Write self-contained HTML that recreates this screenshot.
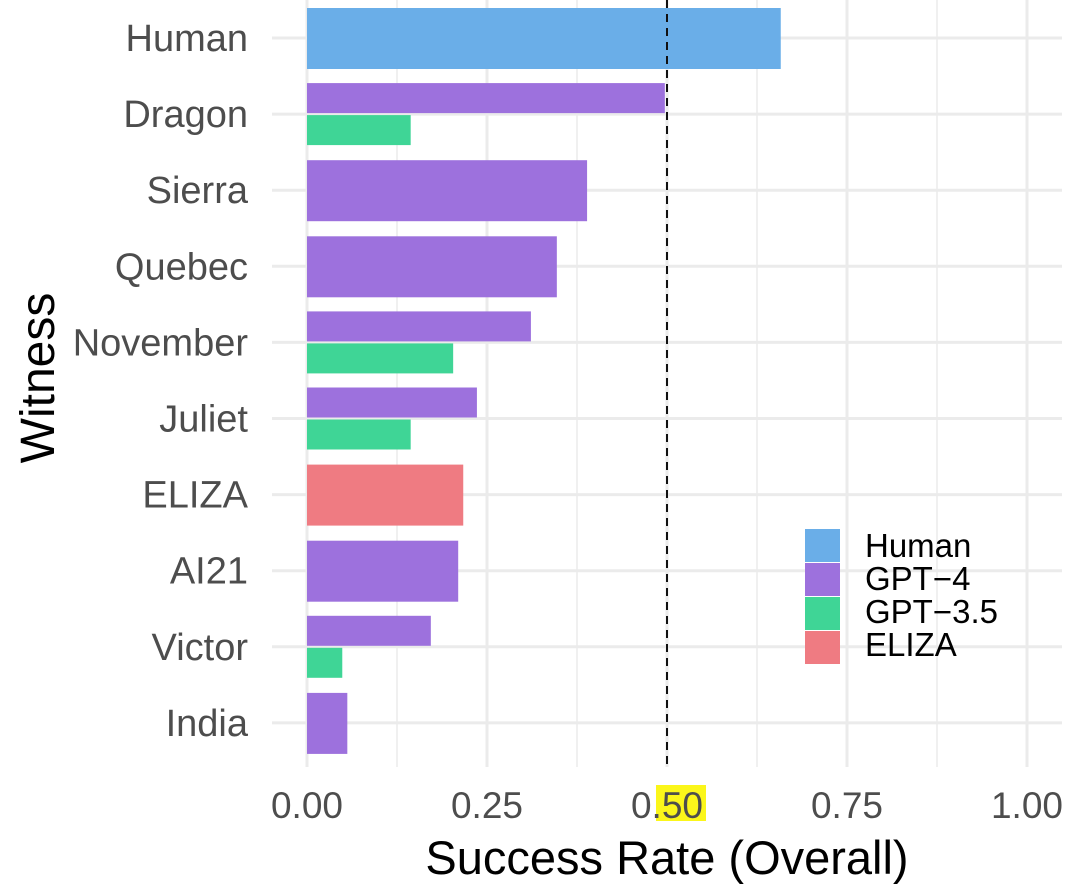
<!DOCTYPE html>
<html><head><meta charset="utf-8"><style>
body{margin:0;background:#fff;}
svg{display:block;font-family:"Liberation Sans",Arial,sans-serif;}
</style></head><body>
<svg id="chart" width="1080" height="888">
<g id="grid"></g><g id="bars"></g><g id="axes"></g><g id="legend"></g>
</svg>
<script>
const witnesses=["Human","Dragon","Sierra","Quebec","November","Juliet","ELIZA","AI21","Victor","India"];
const humanVals=[0.658,null,null,null,null,null,null,null,null,null];
const gpt4Vals=[null,0.497,0.389,0.347,0.311,0.236,null,0.21,0.172,0.056];
const gpt35Vals=[null,0.144,null,null,0.203,0.144,null,null,0.049,null];
const elizaVals=[null,null,null,null,null,null,0.217,null,null,null];
const xTicks=[0,0.25,0.5,0.75,1];
const xTickLabels=["0.00","0.25","0.50","0.75","1.00"];
const seriesNames=["Human","GPT\u22124","GPT\u22123.5","ELIZA"];
const colors=["#6aaee8","#9d71dd","#3fd596","#ef7b82"];
const NS="http://www.w3.org/2000/svg";
const X=v=>307+v*720;
const Y=i=>38+i*76.1;
function mk(tag,attrs,parent,text){const e=document.createElementNS(NS,tag);for(const k in attrs)e.setAttribute(k,attrs[k]);if(text!=null)e.textContent=text;parent.appendChild(e);return e;}
const grid=document.getElementById('grid'),bars=document.getElementById('bars'),axes=document.getElementById('axes'),legend=document.getElementById('legend');
for(let t=0;t<=1.0001;t+=0.125){const g=mk('line',{x1:X(t),x2:X(t),y1:0,y2:767,stroke:'#ebebeb','stroke-width':(Math.round(t*8)%2==0)?3:1.5},grid);

}
witnesses.forEach((w,i)=>{const g=mk('line',{x1:272,x2:1062,y1:Y(i),y2:Y(i),stroke:'#ebebeb','stroke-width':3},grid);


const t=mk('text',{x:248,y:Y(i)+13,'text-anchor':'end','font-size':38,fill:'#4d4d4d'},axes,w);

});
const all=[humanVals,gpt4Vals,gpt35Vals,elizaVals];
witnesses.forEach((w,i)=>{const present=all.map((s,k)=>s[i]!=null?k:-1).filter(k=>k>=0);
const n=present.length;
present.forEach((k,j)=>{const r=mk('rect',{x:X(0),y:n==1?Y(i)-30:Y(i)-31+j*32,width:X(all[k][i])-X(0),height:n==1?61:30,fill:colors[k]},bars);

});});
const d=mk('line',{x1:X(0.5),x2:X(0.5),y1:0,y2:767,stroke:'#111','stroke-width':2,'stroke-dasharray':'8,6'},axes);


const hl=mk('rect',{x:656,y:785,width:50,height:36,fill:'#fbf61a'},axes);


xTicks.forEach((v,i)=>{const t=mk('text',{x:X(v),y:818,'text-anchor':'middle','font-size':37,fill:'#4d4d4d'},axes,xTickLabels[i]);

});
const xt=mk('text',{x:667,y:874,'text-anchor':'middle','font-size':47,fill:'#000'},axes,'Success Rate (Overall)');


const yt=mk('text',{x:0,y:0,'text-anchor':'middle','font-size':48,fill:'#000',transform:'translate(54,378) rotate(-90)'},axes,'Witness');


seriesNames.forEach((s,i)=>{const r=mk('rect',{x:805,y:529+i*34,width:35,height:33,fill:colors[i]},legend);


const t=mk('text',{x:865,y:557+i*33,'font-size':33,fill:'#000'},legend,s);

});
</script>
</body></html>
